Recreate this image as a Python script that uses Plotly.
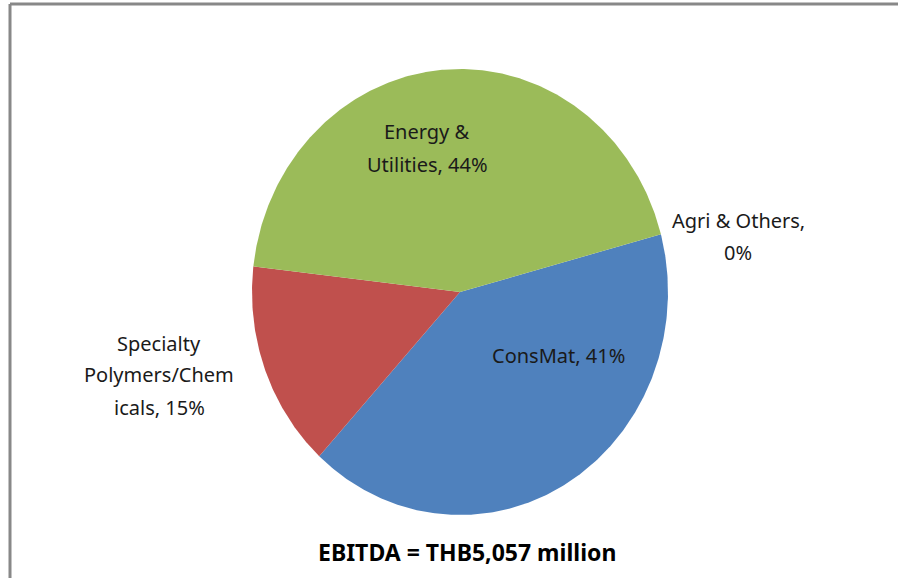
import numpy as np
import plotly.graph_objects as go

# Segment EBITDA shares (percent), listed clockwise from the start angle
segments = ["Agri & Others", "ConsMat", "Specialty Polymers/Chemicals", "Energy & Utilities"]
shares = [0, 41, 15, 44]
colors = ["#8064A2", "#4F81BD", "#C0504D", "#9BBB59"]
# How each segment name is wrapped when printed beside its slice
name_lines = [
    ["Agri & Others,"],
    ["ConsMat,"],
    ["Specialty", "Polymers/Chem", "icals,"],
    ["Energy &", "Utilities,"],
]
total_label = "EBITDA = THB5,057 million"

W, H = 899, 578
START_DEG = 75.0          # first slice starts here, clockwise from 12 o'clock
CX, CY = 460, 292         # pie centre in pixels
RX, RY = 208, 223         # horizontal / vertical radius in pixels

fig = go.Figure()

cum = START_DEG
total = float(sum(shares))
for name, val, col in zip(segments, shares, colors):
    span = 360.0 * val / total
    th = np.radians(np.linspace(cum, cum + span, max(int(span * 2), 2)))
    xs = np.concatenate([[0.0], np.sin(th), [0.0]])
    ys = np.concatenate([[0.0], np.cos(th), [0.0]])
    fig.add_trace(go.Scatter(
        x=xs, y=ys, mode="lines", fill="toself", fillcolor=col,
        line=dict(width=0, color=col), name=name, hoverinfo="name",
        showlegend=False,
    ))
    cum += span


def px(x):
    return x / W


def py(y):
    return 1 - y / H


font = dict(family="Noto Sans, Open Sans, sans-serif", size=20, color="#1a1a1a")
LINE = 32

# label block centres in pixels
label_pos = {
    "Agri & Others": (738, 236),
    "ConsMat": (558, 355),
    "Specialty Polymers/Chemicals": (159, 375),
    "Energy & Utilities": (427, 148),
}

annotations = []
for name, val, lines in zip(segments, shares, name_lines):
    txt = list(lines)
    if name == "Agri & Others":
        txt = txt + [f"{val}%"]
    else:
        txt[-1] = f"{txt[-1]} {val}%"
    bx, by = label_pos[name]
    n = len(txt)
    for i, t in enumerate(txt):
        yy = by + (i - (n - 1) / 2) * LINE
        annotations.append(dict(
            x=px(bx), y=py(yy), xref="paper", yref="paper", text=t,
            showarrow=False, xanchor="center", yanchor="middle", font=font,
        ))

annotations.append(dict(
    x=px(467), y=py(552), xref="paper", yref="paper",
    text=f"<b>{total_label}</b>", showarrow=False,
    xanchor="center", yanchor="middle",
    font=dict(family="Noto Sans, Open Sans, sans-serif", size=23, color="#000000"),
))

shapes = [
    dict(type="line", xref="paper", yref="paper", x0=px(10), x1=px(898),
         y0=py(4), y1=py(4), line=dict(color="#888888", width=3)),
    dict(type="line", xref="paper", yref="paper", x0=px(10), x1=px(10),
         y0=py(4), y1=py(H + 2), line=dict(color="#888888", width=3)),
]

fig.update_layout(
    width=W, height=H,
    margin=dict(l=0, r=0, t=0, b=0),
    paper_bgcolor="white", plot_bgcolor="white",
    xaxis=dict(range=[-CX / RX, (W - CX) / RX], visible=False, fixedrange=True),
    yaxis=dict(range=[-(H - CY) / RY, CY / RY], visible=False, fixedrange=True),
    annotations=annotations, shapes=shapes,
)

fig.write_html("out.html")
